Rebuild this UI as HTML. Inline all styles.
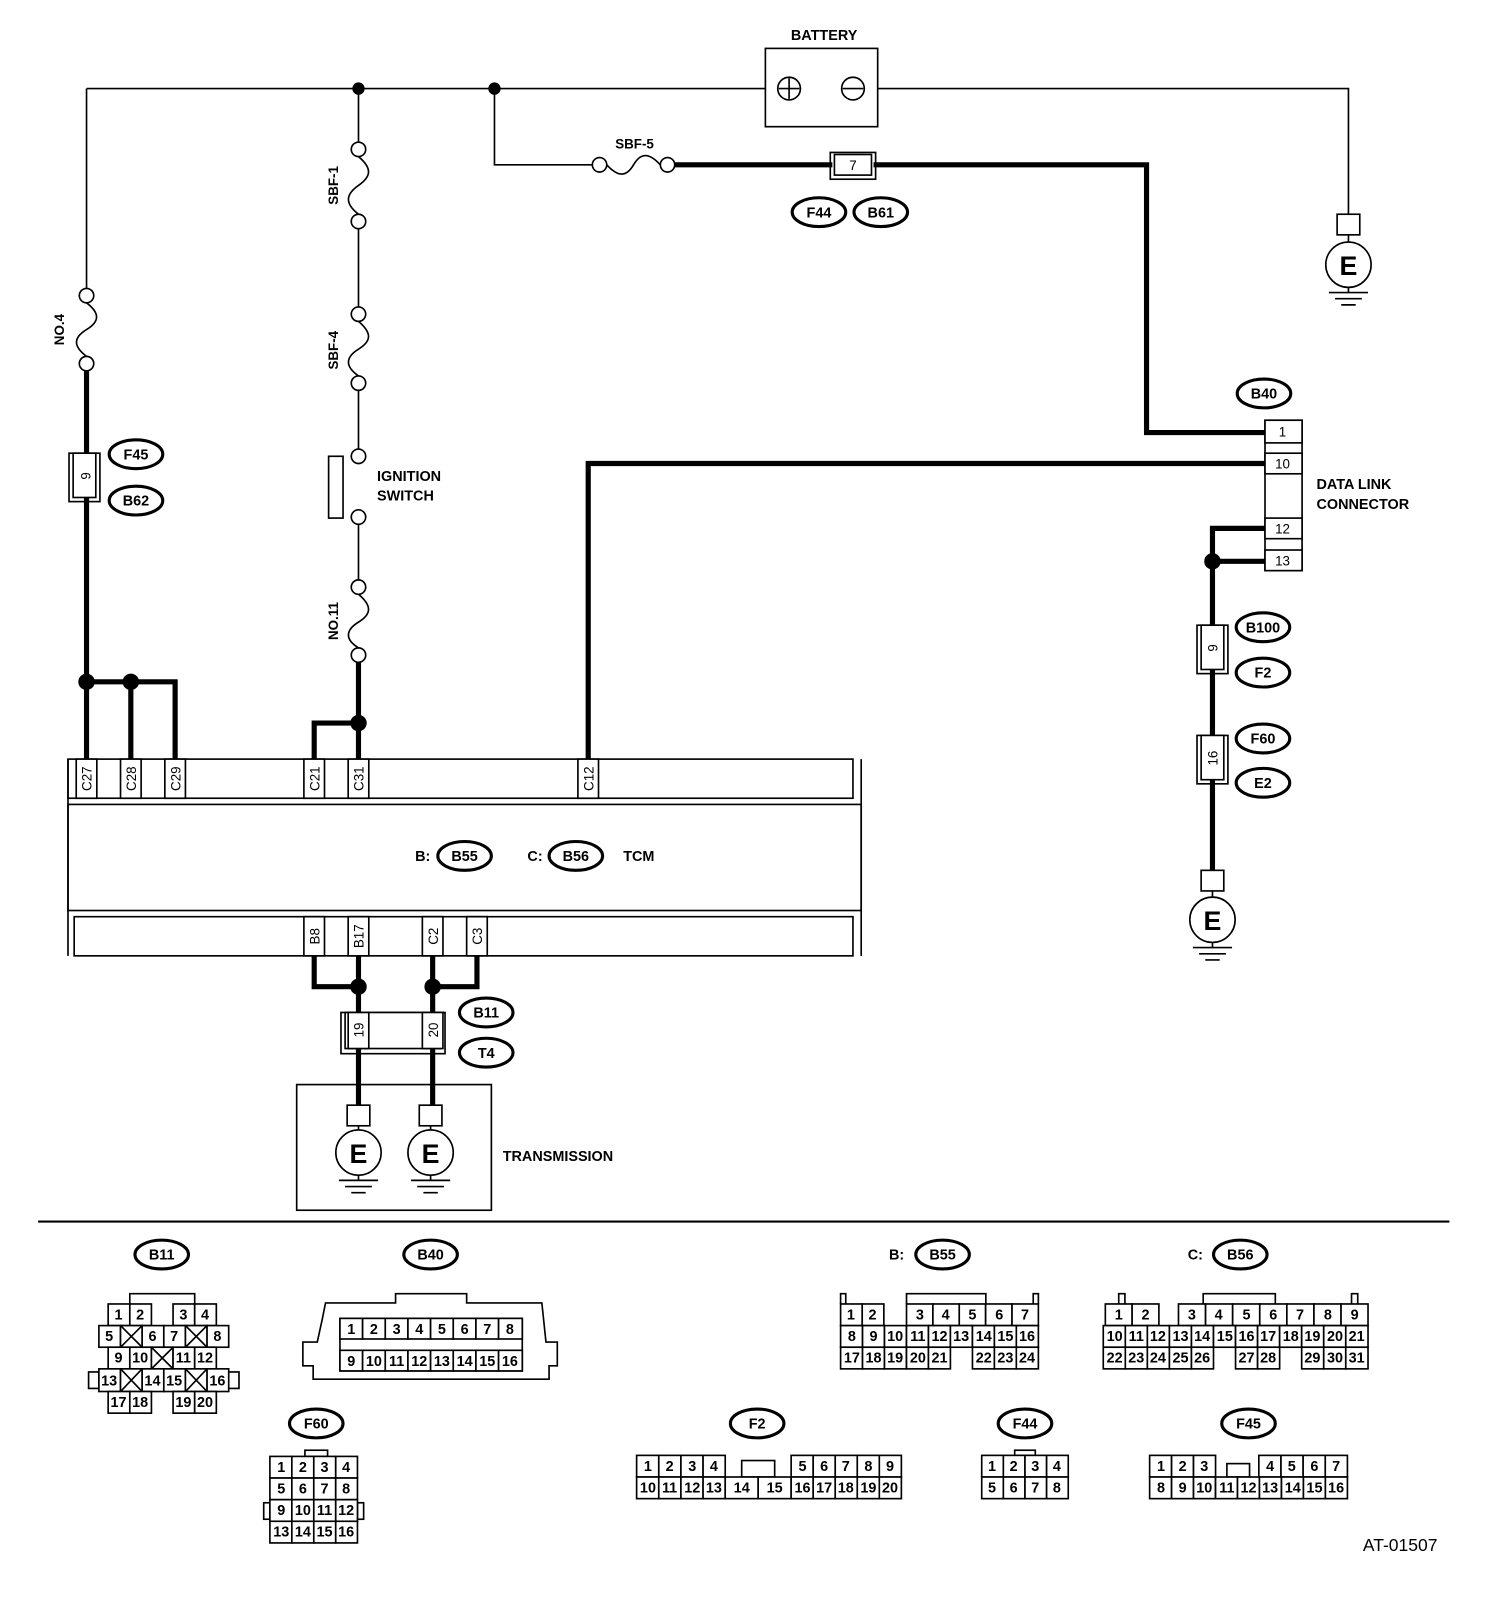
<!DOCTYPE html>
<html><head><meta charset="utf-8"><style>
html,body{margin:0;padding:0;background:#fff}
svg{display:block}
text{font-family:"Liberation Sans",Arial,sans-serif;font-weight:bold;font-size:14px;fill:#000}
.t{stroke:#000;stroke-width:1.6;fill:none}
.k{stroke:#000;stroke-width:5;fill:none}
.o{stroke:#000;stroke-width:3;fill:#fff}
.c{stroke:#000;stroke-width:1.6;fill:#fff}
.n{font-size:13px;font-weight:normal;text-anchor:middle}
.m{text-anchor:middle}
</style></head><body>
<svg width="1504" height="1614" viewBox="0 0 1460 1567" preserveAspectRatio="none" xmlns="http://www.w3.org/2000/svg">
<!-- battery -->
<text x="800" y="39" class="m">BATTERY</text>
<rect x="743" y="47" width="109" height="76" class="t"/>
<circle cx="766" cy="86" r="11" class="t"/><path d="M756 86H776M766 76V96" class="t"/>
<circle cx="828" cy="86" r="11" class="t"/><path d="M818 86H838" class="t"/>
<path d="M84 86H743M852 86H1309V208" class="t"/>
<!-- right ground top -->
<rect x="1298" y="208" width="22" height="20" class="t"/><path d="M1309 228V235" class="t"/>
<circle cx="1309" cy="257" r="22" class="t"/><text x="1309" y="267" class="m" style="font-size:26px">E</text>
<path d="M1309 279V284M1290 284H1328M1296 290H1322M1302 296H1316" class="t"/>
<!-- left branch NO.4 -->
<path d="M84 86V280" class="t"/>
<circle cx="84" cy="287" r="7" class="t"/><circle cx="84" cy="353" r="7" class="t"/>
<path d="M84 294C97 304 97 312 84 320C71 328 71 336 84 346" class="t"/>
<text transform="translate(62,320) rotate(-90)" class="m" style="font-size:13px">NO.4</text>
<path d="M84 360V662" class="k"/>
<rect x="67" y="440" width="30" height="47" class="t"/><rect x="71" y="440" width="22" height="43" class="c"/>
<text transform="translate(88,462) rotate(-90)" class="n">9</text>
<ellipse cx="132" cy="441" rx="26" ry="14" class="o"/><text x="132" y="446" class="m">F45</text>
<ellipse cx="132" cy="486" rx="26" ry="14" class="o"/><text x="132" y="491" class="m">B62</text>
<path d="M84 662H170V737M127 662V737" class="k"/><path d="M84 662V737" class="k"/>
<circle cx="84" cy="662" r="8"/><circle cx="127" cy="662" r="8"/>
<!-- middle branch -->
<circle cx="348" cy="86" r="6"/><circle cx="480" cy="86" r="6"/>
<path d="M348 86V138M348 222V298M348 379V436M348 509V563" class="t"/>
<circle cx="348" cy="145" r="7" class="t"/><circle cx="348" cy="215" r="7" class="t"/>
<path d="M348 152C361 163 361 171 348 180C335 189 335 198 348 208" class="t"/>
<text transform="translate(328,180) rotate(-90)" class="m" style="font-size:13px">SBF-1</text>
<circle cx="348" cy="305" r="7" class="t"/><circle cx="348" cy="372" r="7" class="t"/>
<path d="M348 312C361 323 361 331 348 339C335 347 335 356 348 365" class="t"/>
<text transform="translate(328,340) rotate(-90)" class="m" style="font-size:13px">SBF-4</text>
<circle cx="348" cy="443" r="7" class="t"/><circle cx="348" cy="502" r="7" class="t"/>
<rect x="319" y="443" width="14" height="60" class="t"/>
<text x="366" y="467">IGNITION</text><text x="366" y="486">SWITCH</text>
<circle cx="348" cy="570" r="7" class="t"/><circle cx="348" cy="636" r="7" class="t"/>
<path d="M348 577C361 588 361 596 348 604C335 612 335 621 348 629" class="t"/>
<text transform="translate(328,603) rotate(-90)" class="m" style="font-size:13px">NO.11</text>
<path d="M348 643V737M348 702H305V737" class="k"/><circle cx="348" cy="702" r="8"/>
<!-- SBF-5 -->
<path d="M480 86V160H575" class="t"/>
<circle cx="582" cy="160" r="7" class="t"/><circle cx="648" cy="160" r="7" class="t"/>
<path d="M589 160C600 172 608 172 615 160C622 148 630 148 641 160" class="t"/>
<text x="616" y="144" class="m" style="font-size:13px">SBF-5</text>
<path d="M655 160H808M848 160H1113V420H1228" class="k"/>
<rect x="806" y="148" width="44" height="26" class="t"/><rect x="810" y="150" width="36" height="20" class="c"/>
<text x="828" y="165" class="n">7</text>
<ellipse cx="795" cy="206" rx="26" ry="14" class="o"/><text x="795" y="211" class="m">F44</text>
<ellipse cx="855" cy="206" rx="26" ry="14" class="o"/><text x="855" y="211" class="m">B61</text>
<!-- data link connector -->
<ellipse cx="1227" cy="382" rx="26" ry="14" class="o"/><text x="1227" y="387" class="m">B40</text>
<rect x="1228" y="408" width="36" height="146" class="t"/>
<rect x="1228" y="408" width="36" height="22" class="c"/><text x="1245" y="424" class="n">1</text>
<rect x="1228" y="440" width="36" height="20" class="c"/><text x="1245" y="455" class="n">10</text>
<rect x="1228" y="503" width="36" height="20" class="c"/><text x="1245" y="518" class="n">12</text>
<rect x="1228" y="534" width="36" height="20" class="c"/><text x="1245" y="549" class="n">13</text>
<text x="1278" y="475">DATA LINK</text><text x="1278" y="494">CONNECTOR</text>
<path d="M1228 450H571V737" class="k"/>
<path d="M1228 513H1177V845M1228 545H1177" class="k"/><circle cx="1177" cy="545" r="8"/>
<rect x="1162" y="607" width="30" height="47" class="t"/><rect x="1166" y="607" width="22" height="43" class="c"/>
<text transform="translate(1182,629) rotate(-90)" class="n">9</text>
<ellipse cx="1226" cy="609" rx="26" ry="14" class="o"/><text x="1226" y="614" class="m">B100</text>
<ellipse cx="1226" cy="653" rx="26" ry="14" class="o"/><text x="1226" y="658" class="m">F2</text>
<rect x="1162" y="714" width="30" height="47" class="t"/><rect x="1166" y="714" width="22" height="43" class="c"/>
<text transform="translate(1182,736) rotate(-90)" class="n">16</text>
<ellipse cx="1226" cy="717" rx="26" ry="14" class="o"/><text x="1226" y="722" class="m">F60</text>
<ellipse cx="1226" cy="760" rx="26" ry="14" class="o"/><text x="1226" y="765" class="m">E2</text>
<rect x="1166" y="845" width="22" height="20" class="t"/><path d="M1177 865V871" class="t"/>
<circle cx="1177" cy="893" r="22" class="t"/><text x="1177" y="903" class="m" style="font-size:26px">E</text>
<path d="M1177 915V920M1158 920H1196M1164 926H1190M1170 932H1184" class="t"/>
<!-- TCM -->
<path d="M66 737V928M836 737V928" class="t"/>
<rect x="66" y="737" width="762" height="38" class="t"/>
<rect x="66" y="781" width="770" height="103" class="t"/>
<rect x="72" y="890" width="756" height="38" class="t"/>
<g class="c">
<rect x="74" y="737" width="20" height="38"/><rect x="117" y="737" width="20" height="38"/><rect x="160" y="737" width="20" height="38"/>
<rect x="295" y="737" width="20" height="38"/><rect x="338" y="737" width="20" height="38"/><rect x="561" y="737" width="20" height="38"/>
<rect x="295" y="890" width="20" height="38"/><rect x="338" y="890" width="20" height="38"/><rect x="410" y="890" width="20" height="38"/><rect x="453" y="890" width="20" height="38"/>
</g>
<g class="n">
<text transform="translate(89,756) rotate(-90)" class="n">C27</text>
<text transform="translate(132,756) rotate(-90)" class="n">C28</text>
<text transform="translate(175,756) rotate(-90)" class="n">C29</text>
<text transform="translate(310,756) rotate(-90)" class="n">C21</text>
<text transform="translate(353,756) rotate(-90)" class="n">C31</text>
<text transform="translate(576,756) rotate(-90)" class="n">C12</text>
<text transform="translate(310,909) rotate(-90)" class="n">B8</text>
<text transform="translate(353,909) rotate(-90)" class="n">B17</text>
<text transform="translate(425,909) rotate(-90)" class="n">C2</text>
<text transform="translate(468,909) rotate(-90)" class="n">C3</text>
</g>
<text x="403" y="836">B:</text>
<ellipse cx="451" cy="831" rx="26" ry="14" class="o"/><text x="451" y="836" class="m">B55</text>
<text x="512" y="836">C:</text>
<ellipse cx="559" cy="831" rx="26" ry="14" class="o"/><text x="559" y="836" class="m">B56</text>
<text x="605" y="836">TCM</text>
<!-- bottom wires -->
<path d="M305 928V958H348M463 928V958H420M348 928V1073M420 928V1073" class="k"/>
<circle cx="348" cy="958" r="8"/><circle cx="420" cy="958" r="8"/>
<rect x="331" y="983" width="101" height="40" class="t"/>
<rect x="335" y="983" width="93" height="35" class="c"/>
<rect x="338" y="983" width="20" height="35" class="c"/><rect x="410" y="983" width="20" height="35" class="c"/>
<text transform="translate(353,1000) rotate(-90)" class="n">19</text>
<text transform="translate(425,1000) rotate(-90)" class="n">20</text>
<ellipse cx="472" cy="983" rx="26" ry="14" class="o"/><text x="472" y="988" class="m">B11</text>
<ellipse cx="472" cy="1022" rx="26" ry="14" class="o"/><text x="472" y="1027" class="m">T4</text>
<rect x="288" y="1053" width="189" height="122" class="t"/>
<text x="488" y="1127">TRANSMISSION</text>
<g>
<rect x="337" y="1073" width="22" height="20" class="t"/><path d="M348 1093V1097" class="t"/>
<circle cx="348" cy="1119" r="22" class="t"/><text x="348" y="1129" class="m" style="font-size:26px">E</text>
<path d="M348 1141V1146M329 1146H367M335 1152H361M341 1158H355" class="t"/>
<rect x="407" y="1073" width="22" height="20" class="t"/><path d="M418 1093V1097" class="t"/>
<circle cx="418" cy="1119" r="22" class="t"/><text x="418" y="1129" class="m" style="font-size:26px">E</text>
<path d="M418 1141V1146M399 1146H437M405 1152H431M411 1158H425" class="t"/>
</g>
<path d="M37 1186H1407" stroke="#000" stroke-width="2"/>
<!-- B11 connector -->
<ellipse cx="157" cy="1218" rx="26" ry="14" class="o"/><text x="157" y="1223" class="m">B11</text>
<path d="M126 1266V1256H189V1266" class="t"/>
<g class="c">
<rect x="105" y="1266" width="21" height="21"/><rect x="126" y="1266" width="21" height="21"/><rect x="168" y="1266" width="21" height="21"/><rect x="189" y="1266" width="21" height="21"/>
<rect x="96" y="1287" width="21" height="21"/><rect x="117" y="1287" width="21" height="21"/><rect x="138" y="1287" width="21" height="21"/><rect x="159" y="1287" width="21" height="21"/><rect x="180" y="1287" width="21" height="21"/><rect x="201" y="1287" width="21" height="21"/>
<rect x="105" y="1308" width="21" height="21"/><rect x="126" y="1308" width="21" height="21"/><rect x="147" y="1308" width="21" height="21"/><rect x="168" y="1308" width="21" height="21"/><rect x="189" y="1308" width="21" height="21"/>
<rect x="86" y="1332" width="10" height="16"/><rect x="222" y="1332" width="10" height="16"/>
<rect x="96" y="1329" width="21" height="22"/><rect x="117" y="1329" width="21" height="22"/><rect x="138" y="1329" width="21" height="22"/><rect x="159" y="1329" width="21" height="22"/><rect x="180" y="1329" width="21" height="22"/><rect x="201" y="1329" width="21" height="22"/>
<rect x="105" y="1351" width="21" height="21"/><rect x="126" y="1351" width="21" height="21"/><rect x="168" y="1351" width="21" height="21"/><rect x="189" y="1351" width="21" height="21"/>
</g>
<path d="M117 1287L138 1308M138 1287L117 1308M180 1287L201 1308M201 1287L180 1308M147 1308L168 1329M168 1308L147 1329M117 1329L138 1351M138 1329L117 1351M180 1329L201 1351M201 1329L180 1351" class="t"/>
<g class="n">
<text x="115" y="1281">1</text><text x="136" y="1281">2</text><text x="178" y="1281">3</text><text x="199" y="1281">4</text>
<text x="106" y="1302">5</text><text x="148" y="1302">6</text><text x="169" y="1302">7</text><text x="211" y="1302">8</text>
<text x="115" y="1323">9</text><text x="136" y="1323">10</text><text x="178" y="1323">11</text><text x="199" y="1323">12</text>
<text x="106" y="1345">13</text><text x="148" y="1345">14</text><text x="169" y="1345">15</text><text x="211" y="1345">16</text>
<text x="115" y="1366">17</text><text x="136" y="1366">18</text><text x="178" y="1366">19</text><text x="199" y="1366">20</text>
</g>
<!-- B40 connector -->
<ellipse cx="418" cy="1218" rx="26" ry="14" class="o"/><text x="418" y="1223" class="m">B40</text>
<path d="M313 1280L308 1303H294V1326H304V1339H533V1326H541V1303H530L526 1265H453V1256H384V1265H316Z" class="t"/>
<rect x="330" y="1280" width="177" height="51" class="c"/>
<g class="c">
<rect x="330" y="1280" width="22" height="20"/><rect x="352" y="1280" width="22" height="20"/><rect x="374" y="1280" width="22" height="20"/><rect x="396" y="1280" width="22" height="20"/><rect x="418" y="1280" width="22" height="20"/><rect x="440" y="1280" width="22" height="20"/><rect x="462" y="1280" width="22" height="20"/><rect x="484" y="1280" width="23" height="20"/>
<rect x="330" y="1311" width="22" height="20"/><rect x="352" y="1311" width="22" height="20"/><rect x="374" y="1311" width="22" height="20"/><rect x="396" y="1311" width="22" height="20"/><rect x="418" y="1311" width="22" height="20"/><rect x="440" y="1311" width="22" height="20"/><rect x="462" y="1311" width="22" height="20"/><rect x="484" y="1311" width="23" height="20"/>
</g>
<g class="n">
<text x="341" y="1295">1</text><text x="363" y="1295">2</text><text x="385" y="1295">3</text><text x="407" y="1295">4</text><text x="429" y="1295">5</text><text x="451" y="1295">6</text><text x="473" y="1295">7</text><text x="495" y="1295">8</text>
<text x="341" y="1326">9</text><text x="363" y="1326">10</text><text x="385" y="1326">11</text><text x="407" y="1326">12</text><text x="429" y="1326">13</text><text x="451" y="1326">14</text><text x="473" y="1326">15</text><text x="495" y="1326">16</text>
</g>
<!-- B55 -->
<text x="863" y="1223">B:</text>
<ellipse cx="915" cy="1218" rx="26" ry="14" class="o"/><text x="915" y="1223" class="m">B55</text>
<path d="M816 1266V1256H821V1266M1003 1266V1256H1008V1266M880 1266V1256H957V1266" class="t"/>
<g class="c">
<rect x="816" y="1266" width="21" height="21"/><rect x="837" y="1266" width="21" height="21"/>
<rect x="880" y="1266" width="25.6" height="21"/><rect x="905.6" y="1266" width="25.6" height="21"/><rect x="931.2" y="1266" width="25.6" height="21"/><rect x="956.8" y="1266" width="25.6" height="21"/><rect x="982.4" y="1266" width="25.6" height="21"/>
<rect x="816" y="1287" width="21.3" height="21"/><rect x="837.3" y="1287" width="21.3" height="21"/><rect x="858.6" y="1287" width="21.3" height="21"/><rect x="880" y="1287" width="21.3" height="21"/><rect x="901.3" y="1287" width="21.3" height="21"/><rect x="922.6" y="1287" width="21.3" height="21"/><rect x="944" y="1287" width="21.3" height="21"/><rect x="965.3" y="1287" width="21.3" height="21"/><rect x="986.6" y="1287" width="21.4" height="21"/>
<rect x="816" y="1308" width="21.3" height="21"/><rect x="837.3" y="1308" width="21.3" height="21"/><rect x="858.6" y="1308" width="21.3" height="21"/><rect x="880" y="1308" width="21.3" height="21"/><rect x="901.3" y="1308" width="21.3" height="21"/>
<rect x="944" y="1308" width="21.3" height="21"/><rect x="965.3" y="1308" width="21.3" height="21"/><rect x="986.6" y="1308" width="21.4" height="21"/>
</g>
<g class="n">
<text x="826" y="1281">1</text><text x="847" y="1281">2</text><text x="893" y="1281">3</text><text x="918" y="1281">4</text><text x="944" y="1281">5</text><text x="970" y="1281">6</text><text x="995" y="1281">7</text>
<text x="827" y="1302">8</text><text x="848" y="1302">9</text><text x="869" y="1302">10</text><text x="891" y="1302">11</text><text x="912" y="1302">12</text><text x="933" y="1302">13</text><text x="955" y="1302">14</text><text x="976" y="1302">15</text><text x="997" y="1302">16</text>
<text x="827" y="1323">17</text><text x="848" y="1323">18</text><text x="869" y="1323">19</text><text x="891" y="1323">20</text><text x="912" y="1323">21</text><text x="955" y="1323">22</text><text x="976" y="1323">23</text><text x="997" y="1323">24</text>
</g>
<!-- B56 -->
<text x="1153" y="1223">C:</text>
<ellipse cx="1204" cy="1218" rx="26" ry="14" class="o"/><text x="1204" y="1223" class="m">B56</text>
<path d="M1086 1266V1256H1092V1266M1312 1266V1256H1318V1266M1168 1266V1256H1238V1266" class="t"/>
<g class="c">
<rect x="1073" y="1266" width="26" height="21"/><rect x="1099" y="1266" width="26" height="21"/>
<rect x="1144" y="1266" width="26.3" height="21"/><rect x="1170.3" y="1266" width="26.3" height="21"/><rect x="1196.6" y="1266" width="26.3" height="21"/><rect x="1222.9" y="1266" width="26.3" height="21"/><rect x="1249.2" y="1266" width="26.3" height="21"/><rect x="1275.5" y="1266" width="26.3" height="21"/><rect x="1301.8" y="1266" width="26.2" height="21"/>
<rect x="1071" y="1287" width="21.4" height="21"/><rect x="1092.4" y="1287" width="21.4" height="21"/><rect x="1113.8" y="1287" width="21.4" height="21"/><rect x="1135.2" y="1287" width="21.4" height="21"/><rect x="1156.6" y="1287" width="21.4" height="21"/><rect x="1178" y="1287" width="21.4" height="21"/><rect x="1199.4" y="1287" width="21.4" height="21"/><rect x="1220.8" y="1287" width="21.4" height="21"/><rect x="1242.2" y="1287" width="21.4" height="21"/><rect x="1263.6" y="1287" width="21.4" height="21"/><rect x="1285" y="1287" width="21.4" height="21"/><rect x="1306.4" y="1287" width="21.6" height="21"/>
<rect x="1071" y="1308" width="21.4" height="21"/><rect x="1092.4" y="1308" width="21.4" height="21"/><rect x="1113.8" y="1308" width="21.4" height="21"/><rect x="1135.2" y="1308" width="21.4" height="21"/><rect x="1156.6" y="1308" width="21.4" height="21"/>
<rect x="1199.4" y="1308" width="21.4" height="21"/><rect x="1220.8" y="1308" width="21.4" height="21"/>
<rect x="1263.6" y="1308" width="21.4" height="21"/><rect x="1285" y="1308" width="21.4" height="21"/><rect x="1306.4" y="1308" width="21.6" height="21"/>
</g>
<g class="n">
<text x="1086" y="1281">1</text><text x="1112" y="1281">2</text><text x="1157" y="1281">3</text><text x="1183" y="1281">4</text><text x="1210" y="1281">5</text><text x="1236" y="1281">6</text><text x="1262" y="1281">7</text><text x="1289" y="1281">8</text><text x="1315" y="1281">9</text>
<text x="1082" y="1302">10</text><text x="1103" y="1302">11</text><text x="1124" y="1302">12</text><text x="1146" y="1302">13</text><text x="1167" y="1302">14</text><text x="1189" y="1302">15</text><text x="1210" y="1302">16</text><text x="1231" y="1302">17</text><text x="1253" y="1302">18</text><text x="1274" y="1302">19</text><text x="1296" y="1302">20</text><text x="1317" y="1302">21</text>
<text x="1082" y="1323">22</text><text x="1103" y="1323">23</text><text x="1124" y="1323">24</text><text x="1146" y="1323">25</text><text x="1167" y="1323">26</text><text x="1210" y="1323">27</text><text x="1231" y="1323">28</text><text x="1274" y="1323">29</text><text x="1296" y="1323">30</text><text x="1317" y="1323">31</text>
</g>
<!-- F60 -->
<ellipse cx="307" cy="1382" rx="26" ry="14" class="o"/><text x="307" y="1387" class="m">F60</text>
<rect x="296" y="1408" width="22" height="6" class="t"/>
<rect x="256" y="1459" width="6" height="16" class="t"/><rect x="347" y="1459" width="6" height="16" class="t"/>
<g class="c">
<rect x="262" y="1414" width="21.3" height="21"/><rect x="283.3" y="1414" width="21.3" height="21"/><rect x="304.6" y="1414" width="21.3" height="21"/><rect x="325.9" y="1414" width="21.1" height="21"/>
<rect x="262" y="1435" width="21.3" height="21"/><rect x="283.3" y="1435" width="21.3" height="21"/><rect x="304.6" y="1435" width="21.3" height="21"/><rect x="325.9" y="1435" width="21.1" height="21"/>
<rect x="262" y="1456" width="21.3" height="21"/><rect x="283.3" y="1456" width="21.3" height="21"/><rect x="304.6" y="1456" width="21.3" height="21"/><rect x="325.9" y="1456" width="21.1" height="21"/>
<rect x="262" y="1477" width="21.3" height="21"/><rect x="283.3" y="1477" width="21.3" height="21"/><rect x="304.6" y="1477" width="21.3" height="21"/><rect x="325.9" y="1477" width="21.1" height="21"/>
</g>
<g class="n">
<text x="273" y="1429">1</text><text x="294" y="1429">2</text><text x="315" y="1429">3</text><text x="336" y="1429">4</text>
<text x="273" y="1450">5</text><text x="294" y="1450">6</text><text x="315" y="1450">7</text><text x="336" y="1450">8</text>
<text x="273" y="1471">9</text><text x="294" y="1471">10</text><text x="315" y="1471">11</text><text x="336" y="1471">12</text>
<text x="273" y="1492">13</text><text x="294" y="1492">14</text><text x="315" y="1492">15</text><text x="336" y="1492">16</text>
</g>
<!-- F2 -->
<ellipse cx="735" cy="1382" rx="26" ry="14" class="o"/><text x="735" y="1387" class="m">F2</text>
<rect x="720" y="1418" width="32" height="16" class="t"/>
<g class="c">
<rect x="618" y="1413" width="21.5" height="21"/><rect x="639.5" y="1413" width="21.5" height="21"/><rect x="661" y="1413" width="21.5" height="21"/><rect x="682.5" y="1413" width="21.5" height="21"/>
<rect x="768" y="1413" width="21.4" height="21"/><rect x="789.4" y="1413" width="21.4" height="21"/><rect x="810.8" y="1413" width="21.4" height="21"/><rect x="832.2" y="1413" width="21.4" height="21"/><rect x="853.6" y="1413" width="21.4" height="21"/>
<rect x="618" y="1434" width="21.5" height="21"/><rect x="639.5" y="1434" width="21.5" height="21"/><rect x="661" y="1434" width="21.5" height="21"/><rect x="682.5" y="1434" width="21.5" height="21"/>
<rect x="704" y="1434" width="32" height="21"/><rect x="736" y="1434" width="32" height="21"/>
<rect x="768" y="1434" width="21.4" height="21"/><rect x="789.4" y="1434" width="21.4" height="21"/><rect x="810.8" y="1434" width="21.4" height="21"/><rect x="832.2" y="1434" width="21.4" height="21"/><rect x="853.6" y="1434" width="21.4" height="21"/>
</g>
<g class="n">
<text x="629" y="1428">1</text><text x="650" y="1428">2</text><text x="672" y="1428">3</text><text x="693" y="1428">4</text>
<text x="779" y="1428">5</text><text x="800" y="1428">6</text><text x="821" y="1428">7</text><text x="843" y="1428">8</text><text x="864" y="1428">9</text>
<text x="629" y="1449">10</text><text x="650" y="1449">11</text><text x="672" y="1449">12</text><text x="693" y="1449">13</text><text x="720" y="1449">14</text><text x="752" y="1449">15</text>
<text x="779" y="1449">16</text><text x="800" y="1449">17</text><text x="821" y="1449">18</text><text x="843" y="1449">19</text><text x="864" y="1449">20</text>
</g>
<!-- F44 -->
<ellipse cx="995" cy="1382" rx="26" ry="14" class="o"/><text x="995" y="1387" class="m">F44</text>
<rect x="985" y="1408" width="20" height="5" class="t"/>
<g class="c">
<rect x="953" y="1413" width="21" height="21"/><rect x="974" y="1413" width="21" height="21"/><rect x="995" y="1413" width="21" height="21"/><rect x="1016" y="1413" width="21" height="21"/>
<rect x="953" y="1434" width="21" height="21"/><rect x="974" y="1434" width="21" height="21"/><rect x="995" y="1434" width="21" height="21"/><rect x="1016" y="1434" width="21" height="21"/>
</g>
<g class="n">
<text x="963" y="1428">1</text><text x="984" y="1428">2</text><text x="1005" y="1428">3</text><text x="1026" y="1428">4</text>
<text x="963" y="1449">5</text><text x="984" y="1449">6</text><text x="1005" y="1449">7</text><text x="1026" y="1449">8</text>
</g>
<!-- F45 -->
<ellipse cx="1212" cy="1382" rx="26" ry="14" class="o"/><text x="1212" y="1387" class="m">F45</text>
<rect x="1191" y="1421" width="22" height="13" class="t"/>
<g class="c">
<rect x="1116" y="1413" width="21.3" height="21"/><rect x="1137.3" y="1413" width="21.3" height="21"/><rect x="1158.6" y="1413" width="21.4" height="21"/>
<rect x="1222" y="1413" width="21.5" height="21"/><rect x="1243.5" y="1413" width="21.5" height="21"/><rect x="1265" y="1413" width="21.5" height="21"/><rect x="1286.5" y="1413" width="21.5" height="21"/>
<rect x="1116" y="1434" width="21.3" height="21"/><rect x="1137.3" y="1434" width="21.3" height="21"/><rect x="1158.6" y="1434" width="21.3" height="21"/><rect x="1180" y="1434" width="21.3" height="21"/><rect x="1201.3" y="1434" width="21.3" height="21"/><rect x="1222.6" y="1434" width="21.3" height="21"/><rect x="1244" y="1434" width="21.3" height="21"/><rect x="1265.3" y="1434" width="21.3" height="21"/><rect x="1286.6" y="1434" width="21.4" height="21"/>
</g>
<g class="n">
<text x="1127" y="1428">1</text><text x="1148" y="1428">2</text><text x="1169" y="1428">3</text>
<text x="1233" y="1428">4</text><text x="1254" y="1428">5</text><text x="1276" y="1428">6</text><text x="1297" y="1428">7</text>
<text x="1127" y="1449">8</text><text x="1148" y="1449">9</text><text x="1169" y="1449">10</text><text x="1191" y="1449">11</text><text x="1212" y="1449">12</text><text x="1233" y="1449">13</text><text x="1255" y="1449">14</text><text x="1276" y="1449">15</text><text x="1297" y="1449">16</text>
</g>
<text x="1323" y="1506" style="font-weight:normal;font-size:17px">AT-01507</text>
</svg>
</body></html>
